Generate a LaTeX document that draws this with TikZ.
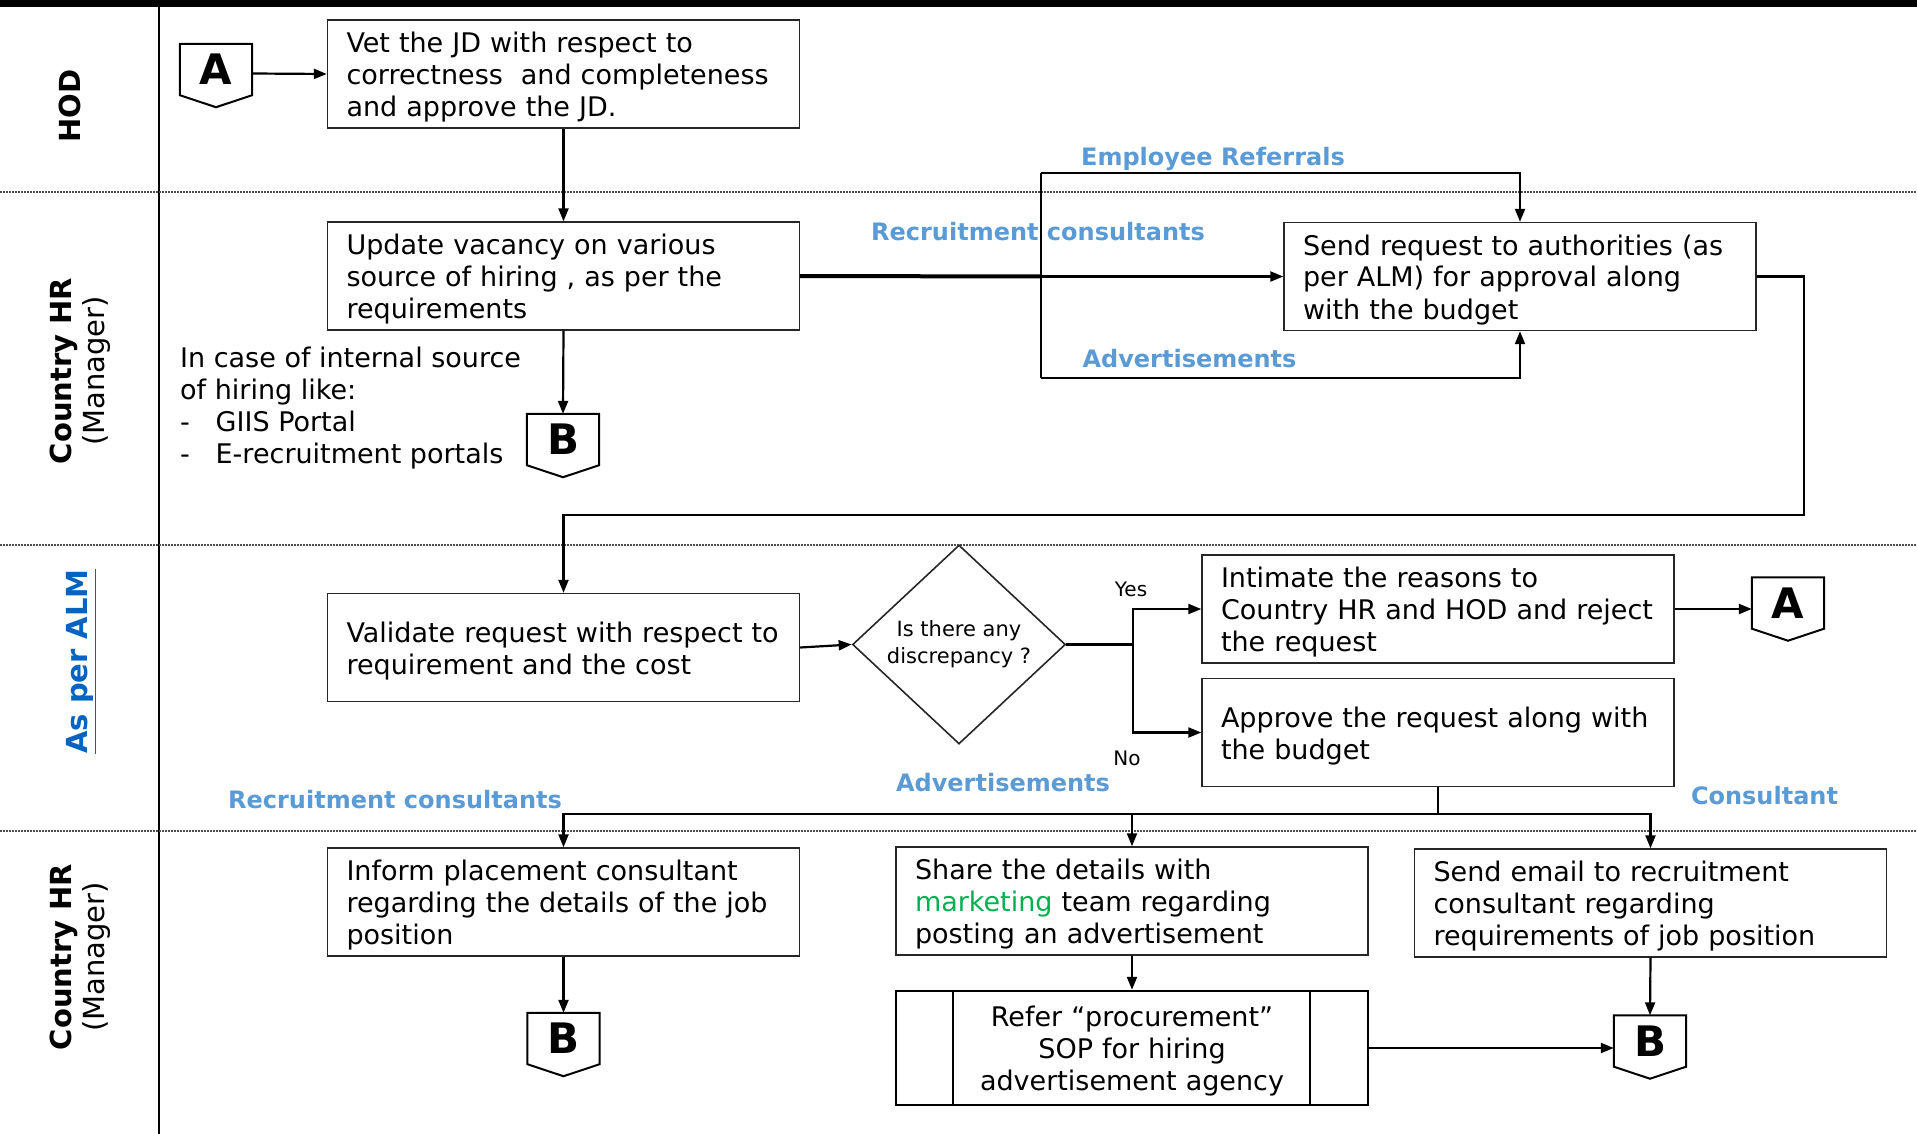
\documentclass[tikz,border=0pt]{standalone}
\usepackage{fontspec}
\setmainfont{DejaVu Sans}
\usetikzlibrary{arrows.meta,shapes.geometric,calc}

\definecolor{labelblue}{RGB}{91,155,213}
\definecolor{almblue}{RGB}{5,99,193}
\definecolor{mkgreen}{RGB}{0,176,80}

\tikzset{
  procbox/.style={draw=black!85, line width=1.4pt, rectangle,
    minimum width=472pt, minimum height=108pt, text width=434pt,
    inner xsep=19pt, inner ysep=0pt, align=left,
    font=\fontsize{27}{32}\selectfont,
    execute at begin node={\rule{0pt}{29pt}},
    execute at end node={\rule[-8pt]{0pt}{8pt}}},
  conn/.style={line width=2.2pt},
  arr/.style={conn, -{Triangle[length=13pt,width=10pt]}},
  heavy/.style={line width=4pt},
  offpage/.style={minimum width=72pt, minimum height=51pt, inner sep=0pt,
    font=\fontsize{42}{42}\bfseries\selectfont},
  flowlabel/.style={text=labelblue, font=\fontsize{24}{28}\bfseries\selectfont, inner sep=0pt},
  lanetitle/.style={rotate=90, align=center, font=\fontsize{29}{33}\selectfont, inner sep=0pt},
  lanesep/.style={line width=1.2pt, black!70, dash pattern=on 1.5pt off 1.5pt},
  smalltext/.style={font=\fontsize{20}{24}\selectfont, inner sep=0pt},
}

% off-page connector outline: box with a pointed bottom
\newcommand\offpageoutline[1]{%
  \draw[line width=2pt] (#1.north west) -- (#1.north east) -- (#1.south east)
    -- ([yshift=-12pt]#1.south) -- (#1.south west) -- cycle;}

\begin{document}
\begin{tikzpicture}[x=1pt,y=-1pt]
\useasboundingbox (0,0) rectangle (1917,1134);

% swim lanes
\fill (0,0) rectangle (1917,7);
\draw[line width=2.5pt] (159,7) -- (159,1134);
\draw[lanesep] (0,192) -- (1917,192);
\draw[lanesep] (0,545) -- (1917,545);
\draw[lanesep] (0,831) -- (1917,831);

\node[lanetitle] (hod) at (70,106) {\bfseries HOD};
\node[lanetitle] (chrA) at (80,371) {{\bfseries Country HR}\\(Manager)};
\node[lanetitle] (alm) at (81,661.5) {\color{almblue}\bfseries\underline{As per ALM}};
\node[lanetitle] (chrB) at (80,957) {{\bfseries Country HR}\\(Manager)};

% process boxes
\node[procbox] (vet) at (563.5,74) {Vet the JD with respect to\\correctness\ \ and completeness\\and approve the JD.};
\node[procbox] (update) at (563.5,276) {Update vacancy on various\\source of hiring , as per the\\requirements};
\node[procbox] (send) at (1520,276.5) {Send request to authorities (as\\per ALM) for approval along\\with the budget};
\node[procbox] (validate) at (563.5,647.5) {Validate request with respect to\\requirement and the cost};
\node[draw=black!85, line width=1.6pt, diamond, minimum width=213pt, minimum height=199pt,
      inner sep=0pt, align=center, font=\fontsize{21}{27}\selectfont] (dia) at (959,644.5)
      {Is there any\\discrepancy ?};
\node[procbox] (intimate) at (1438,609) {Intimate the reasons to\\Country HR and HOD and reject\\the request};
\node[procbox] (approve) at (1438,732.5) {Approve the request along with\\the budget};
\node[procbox] (inform) at (563.5,902) {Inform placement consultant\\regarding the details of the job\\position};
\node[procbox] (share) at (1132,901) {Share the details with\\\textcolor{mkgreen}{marketing} team regarding\\posting an advertisement};
\node[procbox] (email) at (1650.5,903) {Send email to recruitment\\consultant regarding\\requirements of job position};
\node[procbox, line width=2.4pt, draw=black, minimum height=114pt, align=center] (procure) at (1132,1048)
      {Refer “procurement”\\SOP for hiring\\advertisement agency};
\draw[line width=1.6pt] ([xshift=58pt]procure.north west) -- ([xshift=58pt]procure.south west);
\draw[line width=1.6pt] ([xshift=-59pt]procure.north east) -- ([xshift=-59pt]procure.south east);

% internal sources note
\node[anchor=west, align=left, inner sep=0pt, font=\fontsize{27}{32}\selectfont] (internal) at (180,408.5)
  {In case of internal source\\of hiring like:\\\makebox[35.5pt][l]{-}GIIS Portal\\\makebox[35.5pt][l]{-}E-recruitment portals};

% off-page connectors
\node[offpage] (A1) at (216,69.5) {A};
\node[offpage] (B1) at (563,439.5) {B};
\node[offpage] (A2) at (1788,603) {A};
\node[offpage] (B2) at (563.5,1038.5) {B};
\node[offpage] (B3) at (1650,1041) {B};
\offpageoutline{A1}
\offpageoutline{B1}
\offpageoutline{A2}
\offpageoutline{B2}
\offpageoutline{B3}

% channel labels
\node[flowlabel] (lblRef) at (1213,159) {Employee Referrals};
\node[flowlabel] (lblRecA) at (1038,231.7) {Recruitment consultants};
\node[flowlabel] (lblAdvA) at (1189.5,359) {Advertisements};
\node[flowlabel] (lblRecB) at (395,800) {Recruitment consultants};
\node[flowlabel] (lblAdvB) at (1003,783) {Advertisements};
\node[flowlabel] (lblCons) at (1764.5,796) {Consultant};
\node[smalltext] (yes) at (1131,589) {Yes};
\node[smalltext] (no) at (1127,758) {No};

% connectors
\coordinate (hub) at (1041,276.5);
\coordinate (loopTop) at (1041,173);
\coordinate (loopBot) at (1041,378);
\coordinate (backRt) at (1804,515);
\coordinate (branch) at (1133,644.5);
\coordinate (split) at (1438,814);

\draw[arr] ([yshift=-4pt]A1.east) -- (vet.west);
\draw[arr] (vet.south) -- (update.north);
\draw[arr] (update.south) -- (B1.north);
\draw[heavy] (update.east) -- (hub);
\draw[arr] (hub) -- (send.west);
\draw[conn] (loopBot) -- (loopTop);
\draw[arr] (loopTop) -| (send.north);
\draw[arr] (loopBot) -| (send.south);
\draw[arr] (send.east) -| (backRt) -| (validate.north);
\draw[arr] (validate.east) -- (dia.west);
\draw[conn] (dia.east) -- (branch);
\draw[arr] (branch) |- (intimate.west);
\draw[arr] (branch) |- (approve.west);
\draw[arr] (intimate.east) -- (A2.west |- intimate.east);
\draw[conn] (approve.south) -- (split);
\draw[arr] (split) -| (inform.north);
\draw[arr] (split) -| (share.north);
\draw[arr] (split) -| (email.north);
\draw[arr] (inform.south) -- (B2.north);
\draw[arr] (share.south) -- (procure.north);
\draw[arr] (email.south) -- (B3.north);
\draw[arr] (procure.east) -- (B3.west |- procure.east);
\end{tikzpicture}
\end{document}
